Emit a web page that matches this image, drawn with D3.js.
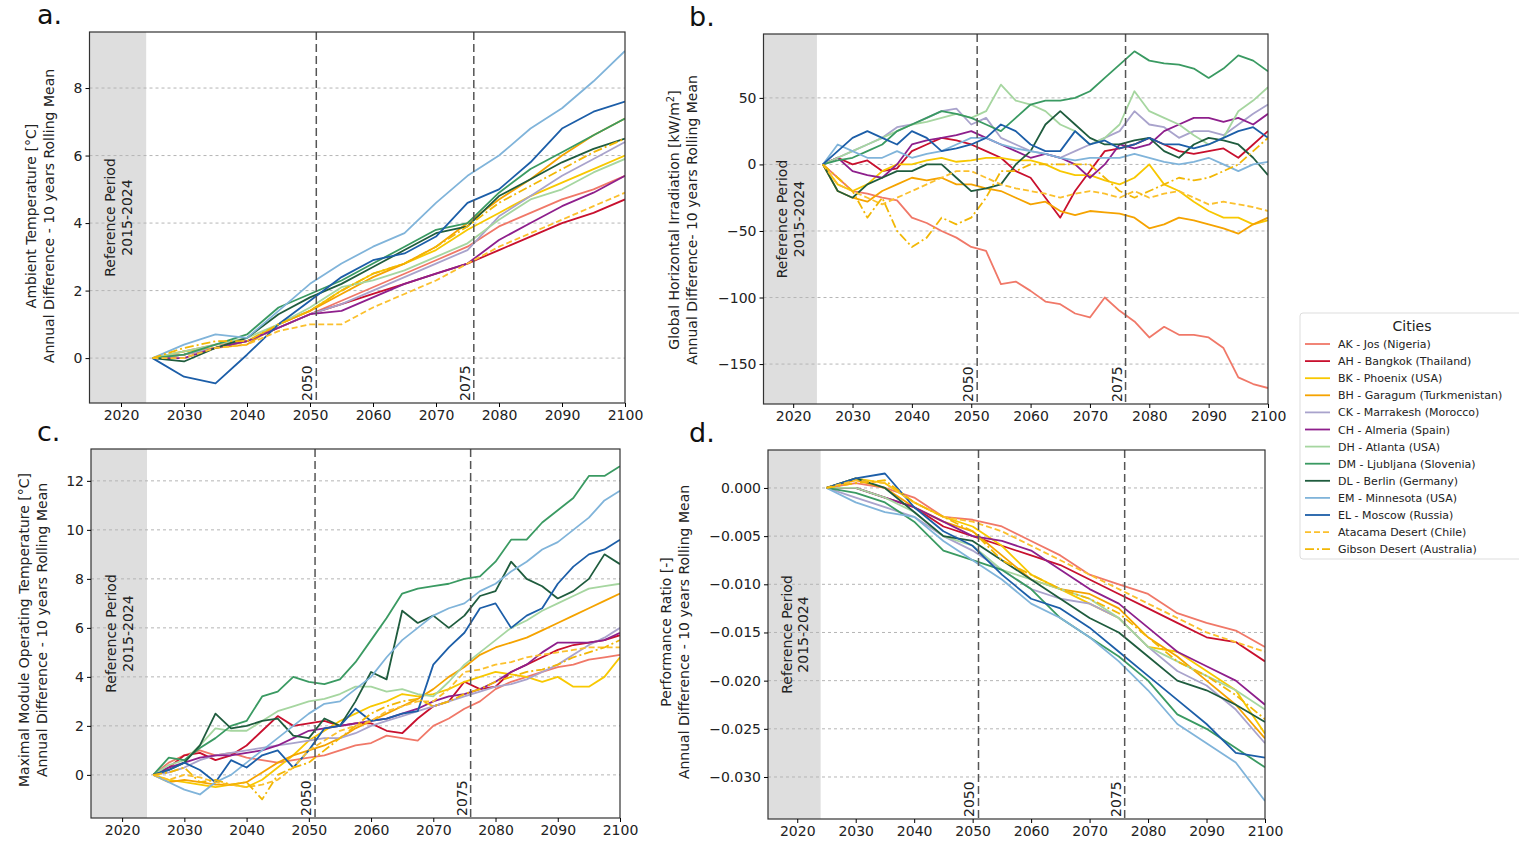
<!DOCTYPE html>
<meta charset="utf-8">
<script src="https://d3js.org/d3.v7.min.js"></script>
<style>
  body { margin: 0; background: #fff; font-family: "DejaVu Sans", sans-serif; }
  .tick text { font-family: "DejaVu Sans", sans-serif; font-size: 14px; fill: #222; }
</style>
<body>
<div id="viz"></div>
<script>
// years of the 10 year rolling mean
const years = [2025, 2030, 2035, 2040, 2045, 2050, 2055, 2060, 2065, 2070, 2075, 2080, 2085, 2090, 2095, 2100];
const yearsFine = [2025, 2027.5, 2030, 2032.5, 2035, 2037.5, 2040, 2042.5, 2045, 2047.5, 2050, 2052.5, 2055, 2057.5,
  2060, 2062.5, 2065, 2067.5, 2070, 2072.5, 2075, 2077.5, 2080, 2082.5, 2085, 2087.5, 2090, 2092.5, 2095, 2097.5, 2100];

const cities = ["AK - Jos (Nigeria)", "AH - Bangkok (Thailand)", "BK - Phoenix (USA)", "BH - Garagum (Turkmenistan)",
  "CK - Marrakesh (Morocco)", "CH - Almeria (Spain)", "DH - Atlanta (USA)", "DM - Ljubljana (Slovenia)",
  "DL - Berlin (Germany)", "EM - Minnesota (USA)", "EL - Moscow (Russia)", "Atacama Desert (Chile)", "Gibson Desert (Australia)"];

// a. ambient temperature difference [°C], same order as cities (years)
const ambientTemp = [
  [0, 0.2, 0.4, 0.5, 0.9, 1.3, 1.7, 2.1, 2.5, 2.9, 3.3, 3.9, 4.3, 4.7, 5.0, 5.4],
  [0, 0.1, 0.3, 0.5, 0.9, 1.3, 1.6, 1.9, 2.2, 2.5, 2.8, 3.2, 3.6, 4.0, 4.3, 4.7],
  [0, 0.2, 0.3, 0.5, 1.0, 1.4, 2.0, 2.5, 2.8, 3.2, 3.8, 4.3, 4.8, 5.2, 5.6, 6.0],
  [0, 0.1, 0.3, 0.4, 1.0, 1.4, 1.9, 2.4, 2.8, 3.3, 4.0, 4.7, 5.3, 6.0, 6.6, 7.1],
  [0, 0.1, 0.3, 0.5, 0.9, 1.3, 1.6, 2.0, 2.4, 2.8, 3.2, 4.2, 4.8, 5.4, 5.9, 6.4],
  [0, 0.0, 0.3, 0.5, 0.9, 1.3, 1.4, 1.8, 2.2, 2.5, 2.8, 3.5, 4.0, 4.5, 4.9, 5.4],
  [0, 0.2, 0.4, 0.6, 1.0, 1.5, 2.1, 2.3, 2.6, 3.0, 3.4, 4.1, 4.7, 5.0, 5.5, 5.9],
  [0, 0.1, 0.4, 0.7, 1.5, 1.9, 2.3, 2.8, 3.3, 3.8, 4.0, 4.9, 5.6, 6.1, 6.6, 7.1],
  [0, -0.1, 0.3, 0.6, 1.3, 1.8, 2.2, 2.7, 3.2, 3.7, 3.9, 4.8, 5.3, 5.8, 6.2, 6.5],
  [0, 0.4, 0.7, 0.6, 1.4, 2.2, 2.8, 3.3, 3.7, 4.6, 5.4, 6.0, 6.8, 7.4, 8.2, 9.1],
  [0, -0.55, -0.75, 0.1, 1.0, 1.7, 2.4, 2.9, 3.1, 3.6, 4.6, 5.0, 5.8, 6.8, 7.3, 7.6],
  [0, 0.0, 0.3, 0.4, 0.8, 1.0, 1.0, 1.5, 1.9, 2.3, 2.8, 3.3, 3.7, 4.1, 4.5, 4.9],
  [0, 0.3, 0.5, 0.5, 1.0, 1.4, 2.0, 2.5, 2.8, 3.3, 3.9, 4.6, 5.1, 5.6, 6.1, 6.5]
];

// b. global horizontal irradiation difference [kW/m2] (yearsFine)
const irradiation = [
  [0, -10, -20, -22, -25, -27, -40, -44, -50, -55, -62, -65, -90, -88, -95, -103, -105, -112, -115, -100, -110, -118, -130, -122, -128, -128, -130, -138, -160, -165, -168],
  [0, 5, 0, 3, -5, -3, 10, 15, 20, 18, 15, 10, 5, -5, -10, -25, -40, -20, -5, 10, 12, 15, 20, 15, 10, 8, 10, 12, 5, 15, 25],
  [0, -15, -20, -15, -5, 0, 0, 3, 5, 2, 3, 5, 5, 3, 3, 0, -5, -8, -8, -12, -15, -10, 0, -15, -20, -28, -35, -40, -40, -45, -42],
  [0, -20, -25, -28, -20, -15, -10, -12, -10, -15, -15, -18, -20, -25, -30, -28, -35, -38, -35, -36, -37, -40, -48, -45, -40, -42, -45, -48, -52, -45, -40],
  [0, 5, 10, 15, 20, 28, 30, 35, 40, 42, 30, 35, 20, 15, 10, 8, 5, 10, 15, 20, 25, 40, 30, 28, 20, 25, 25, 22, 30, 38, 45],
  [0, 5, -5, -8, -10, 0, 15, 18, 20, 22, 25, 20, 15, 10, 5, 8, 5, 0, -10, 0, 15, 12, 15, 25, 30, 35, 35, 32, 35, 30, 38],
  [0, 5, 10, 15, 20, 25, 30, 32, 35, 38, 35, 40, 60, 48, 45, 40, 30, 25, 15, 20, 30, 55, 40, 35, 30, 22, 15, 20, 40, 48, 58],
  [0, 3, 5, 10, 15, 25, 30, 35, 40, 38, 35, 30, 25, 35, 45, 48, 48, 50, 55, 65, 75, 85, 78, 76, 75, 72, 65, 72, 82, 78, 70],
  [0, -20, -25, -15, -10, -5, -5, 0, 0, -10, -20, -18, -15, 0, 10, 30, 40, 30, 20, 15, 15, 18, 20, 10, 5, 15, 20, 18, 15, 5, -8],
  [0, 15, 10, 5, 5, 10, 5, 8, 10, 15, 20, 20, 15, 12, 10, 8, 5, 3, 5, 5, 5, 8, 5, 2, 0, 2, 5, 0, -5, 0, 2],
  [0, 10, 20, 25, 20, 15, 25, 20, 10, 12, 15, 20, 30, 25, 15, 10, 10, 25, 15, 18, 12, 15, 20, 15, 15, 12, 15, 20, 25, 28, 20],
  [0, -15, -20, -25, -30, -25, -20, -15, -10, -5, -5, -10, -15, -18, -20, -22, -25, -22, -20, -22, -25, -20, -25, -22, -20, -25, -30, -28, -30, -32, -35],
  [0, -10, -20, -40, -25, -50, -62, -55, -40, -45, -40, -25, -5, -5, 0, 0, 0, 0, 0, -10, -20, -25, -20, -15, -10, -12, -10, -5, 0, 10, 20]
];

// c. maximal module operating temperature difference [°C] (yearsFine)
const moduleTemp = [
  [0, 0.5, 0.8, 1.0, 0.8, 0.9, 0.7, 0.6, 0.5, 0.6, 0.7, 0.8, 1.0, 1.2, 1.3, 1.6, 1.5, 1.4, 2.0, 2.3, 2.7, 3.0, 3.5, 3.8, 4.0, 4.2, 4.4, 4.5, 4.7, 4.8, 4.9],
  [0, 0.3, 0.8, 0.9, 0.6, 0.8, 1.2, 1.8, 2.4, 2.0, 2.1, 2.2, 2.0, 2.1, 2.1, 1.8, 1.7, 2.3, 2.8, 3.0, 3.8, 3.5, 3.6, 4.2, 4.5, 4.8, 5.1, 5.3, 5.4, 5.5, 5.7],
  [0, -0.2, -0.3, -0.4, -0.5, -0.4, -0.5, -0.2, 0.3, 0.8, 1.4, 1.8, 2.2, 2.5, 2.8, 3.0, 3.3, 3.2, 3.3, 3.5, 3.8, 4.0, 4.2, 4.1, 4.0, 3.8, 4.0, 3.6, 3.6, 4.0, 4.8],
  [0, -0.3, -0.2, -0.3, -0.4, -0.4, -0.3, 0.1, 0.5, 0.8, 1.0, 1.2, 1.5, 1.9, 2.2, 2.5, 2.8, 3.1, 3.5, 4.0, 4.4, 4.9, 5.2, 5.4, 5.6, 5.9, 6.2, 6.5, 6.8, 7.1, 7.4],
  [0, 0.1, 0.3, 0.6, 0.8, 0.9, 1.0, 1.1, 1.2, 1.3, 1.4, 1.5, 1.5, 1.7, 2.0, 2.2, 2.4, 2.6, 2.8, 3.0, 3.2, 3.4, 3.6, 3.7, 3.9, 4.2, 4.5, 4.9, 5.3, 5.6, 6.0],
  [0, 0.3, 0.5, 0.7, 0.8, 0.8, 0.9, 1.0, 1.2, 1.5, 1.8, 1.9, 2.0, 2.1, 2.2, 2.3, 2.5, 2.7, 3.0, 3.2, 3.3, 3.5, 3.8, 4.2, 4.5, 5.0, 5.4, 5.4, 5.4, 5.5, 5.8],
  [0, 0.4, 0.6, 1.2, 1.9, 1.8, 1.8, 2.2, 2.6, 2.8, 3.0, 3.1, 3.3, 3.6, 3.6, 3.4, 3.5, 3.3, 3.2, 3.8, 4.5, 5.0, 5.5, 6.0, 6.3, 6.7, 7.0, 7.3, 7.6, 7.7, 7.8],
  [0, 0.7, 0.6, 1.1, 1.5, 2.0, 2.2, 3.2, 3.4, 4.0, 3.8, 3.7, 3.9, 4.6, 5.5, 6.4, 7.4, 7.6, 7.7, 7.8, 8.0, 8.1, 8.7, 9.6, 9.6, 10.3, 10.8, 11.3, 12.2, 12.2, 12.6],
  [0, 0.2, 0.5, 1.2, 2.5, 1.9, 2.0, 2.2, 2.3, 1.6, 1.5, 2.3, 2.0, 3.0, 4.2, 3.9, 6.7, 6.2, 6.5, 6.0, 6.5, 7.3, 7.5, 8.7, 8.0, 7.7, 7.2, 7.5, 8.0, 9.0, 8.6],
  [0, -0.3, -0.6, -0.8, -0.3, 0.0, 0.5, 1.0, 1.5, 2.0, 2.5, 2.9, 3.0, 3.5, 4.0, 4.8, 5.5, 6.0, 6.5, 6.8, 7.0, 7.5, 7.8, 8.3, 8.7, 9.2, 9.5, 10.0, 10.5, 11.2, 11.6],
  [0, 0.2, 0.5, 0.2, -0.3, 0.6, 0.3, 0.8, 1.0, 0.3, 1.0, 1.9, 2.0, 2.7, 2.2, 2.3, 2.5, 2.6, 4.5, 5.2, 5.8, 6.8, 7.0, 6.0, 6.5, 6.8, 7.8, 8.5, 9.0, 9.2, 9.6],
  [0, -0.2, 0.0, -0.1, -0.3, -0.4, -0.5, -0.4, -0.2, 0.3, 1.0, 1.4, 1.8, 2.0, 2.2, 2.6, 2.8, 3.0, 3.0, 3.5, 4.2, 4.3, 4.5, 4.6, 4.8, 4.9, 5.0, 5.1, 5.2, 5.2, 5.2],
  [0, 0.1, 0.3, -0.3, -0.2, -0.4, -0.3, -1.0, 0.0, 0.3, 0.5, 1.0, 1.5, 2.0, 2.5, 2.8, 3.0, 3.1, 2.8, 3.0, 3.3, 3.5, 3.8, 4.0, 4.2, 4.3, 4.5, 4.8, 5.0, 5.2, 5.5]
];

// d. performance ratio difference [-] (years)
const perfRatio = [
  [0, 0.0005, 0.0, -0.001, -0.003, -0.0033, -0.004, -0.0055, -0.007, -0.009, -0.010, -0.011, -0.013, -0.014, -0.0148, -0.0165],
  [0, 0.0, -0.001, -0.002, -0.004, -0.005, -0.006, -0.007, -0.008, -0.0095, -0.011, -0.0125, -0.014, -0.0155, -0.016, -0.018],
  [0, 0.001, 0.0005, -0.0015, -0.003, -0.004, -0.006, -0.009, -0.0105, -0.012, -0.0135, -0.0165, -0.017, -0.019, -0.021, -0.0255],
  [0, 0.0008, 0.0, -0.002, -0.0035, -0.0045, -0.007, -0.0095, -0.0105, -0.011, -0.0125, -0.0155, -0.0175, -0.020, -0.0225, -0.026],
  [0, -0.001, -0.002, -0.003, -0.005, -0.0065, -0.0085, -0.0105, -0.0115, -0.012, -0.0135, -0.0165, -0.019, -0.0205, -0.023, -0.0265],
  [0, 0.0, -0.001, -0.002, -0.0035, -0.005, -0.0055, -0.0065, -0.0085, -0.0105, -0.012, -0.0145, -0.017, -0.0185, -0.020, -0.0225],
  [0, 0.0, -0.001, -0.0025, -0.005, -0.006, -0.0085, -0.0095, -0.0105, -0.0115, -0.0135, -0.0165, -0.018, -0.0195, -0.021, -0.023],
  [0, -0.0005, -0.0015, -0.0035, -0.0065, -0.0075, -0.0085, -0.0105, -0.0135, -0.0155, -0.0175, -0.020, -0.0235, -0.025, -0.027, -0.029],
  [0, 0.001, 0.0, -0.0025, -0.005, -0.0055, -0.0075, -0.0095, -0.0115, -0.0135, -0.015, -0.0175, -0.020, -0.021, -0.0225, -0.0243],
  [0, -0.0015, -0.0025, -0.003, -0.0055, -0.0075, -0.0095, -0.012, -0.0135, -0.0155, -0.018, -0.021, -0.0245, -0.0265, -0.0285, -0.0325],
  [0, 0.001, 0.0015, -0.002, -0.0045, -0.006, -0.009, -0.0115, -0.0125, -0.0145, -0.017, -0.0195, -0.022, -0.0245, -0.0275, -0.028],
  [0, 0.0008, 0.0005, -0.0015, -0.003, -0.0035, -0.0045, -0.006, -0.0075, -0.009, -0.0105, -0.012, -0.0135, -0.015, -0.016, -0.017],
  [0, 0.0005, 0.0008, -0.0015, -0.003, -0.0045, -0.0075, -0.009, -0.0105, -0.0115, -0.013, -0.0155, -0.018, -0.0195, -0.0215, -0.024]
];

const xTicks = [2020, 2030, 2040, 2050, 2060, 2070, 2080, 2090, 2100];

// line styles per city
const colors = ["#f07868", "#c8102e", "#f8c800", "#f5a300", "#a9a3cc", "#8e1f8c", "#a6d6a0",
  "#3a9a62", "#1f5c3e", "#80b4da", "#1c5ea8", "#fbc02d", "#f2b705"];
const dashes = [null, null, null, null, null, null, null, null, null, null, null, "6,3", "9,3,2,3"];

const svg = d3.select("#viz").append("svg")
  .attr("width", 1519).attr("height", 843)
  .style("font-family", "DejaVu Sans, sans-serif");

function drawPanel(p) {
  const g = svg.append("g");
  const x = d3.scaleLinear().domain([2015, 2100]).range([p.left, p.right]);
  const y = d3.scaleLinear().domain(p.yDomain).range([p.bottom, p.top]);

  // reference period shading
  g.append("rect")
    .attr("x", x(2015)).attr("y", p.top)
    .attr("width", x(2024) - x(2015)).attr("height", p.bottom - p.top)
    .attr("fill", "#dedede");

  // horizontal grid
  g.selectAll(".grid").data(p.yTicks).join("line")
    .attr("x1", p.left).attr("x2", p.right)
    .attr("y1", d => y(d)).attr("y2", d => y(d))
    .attr("stroke", "#b5b5b5").attr("stroke-width", 1).attr("stroke-dasharray", "3,3");

  const clipId = "clip" + p.id;
  svg.append("clipPath").attr("id", clipId).append("rect")
    .attr("x", p.left).attr("y", p.top).attr("width", p.right - p.left).attr("height", p.bottom - p.top);

  const line = d3.line().x((d, i) => x(p.years[i])).y(d => y(d));
  g.append("g").attr("clip-path", `url(#${clipId})`)
    .selectAll("path").data(p.series).join("path")
    .attr("d", line)
    .attr("fill", "none")
    .attr("stroke", (d, i) => colors[i])
    .attr("stroke-width", 1.8)
    .attr("stroke-linejoin", "round")
    .attr("stroke-dasharray", (d, i) => dashes[i]);

  // milestone lines 2050 / 2075
  [[2051, "2050"], [2076, "2075"]].forEach(m => {
    g.append("line")
      .attr("x1", x(m[0])).attr("x2", x(m[0]))
      .attr("y1", p.top).attr("y2", p.bottom)
      .attr("stroke", "#555").attr("stroke-width", 1.5).attr("stroke-dasharray", "8,4");
    g.append("text")
      .attr("transform", `translate(${x(m[0]) - 4},${p.bottom - 2}) rotate(-90)`)
      .attr("font-size", 14).attr("fill", "#222")
      .text(m[1]);
  });

  // reference period label
  const cx = (x(2015) + x(2024)) / 2, cy = (p.top + p.bottom) / 2;
  const ref = g.append("text")
    .attr("transform", `translate(${cx},${cy}) rotate(-90)`)
    .attr("text-anchor", "middle").attr("font-size", 14).attr("fill", "#222");
  ref.append("tspan").attr("x", 0).attr("dy", "-0.2em").text("Reference Period");
  ref.append("tspan").attr("x", 0).attr("dy", "1.2em").text("2015-2024");

  // frame
  g.append("rect")
    .attr("x", p.left).attr("y", p.top)
    .attr("width", p.right - p.left).attr("height", p.bottom - p.top)
    .attr("fill", "none").attr("stroke", "#333").attr("stroke-width", 1.2);

  g.append("g").attr("transform", `translate(0,${p.bottom})`)
    .call(d3.axisBottom(x).tickValues(xTicks).tickFormat(d3.format("d")).tickSizeOuter(0).tickSize(4))
    .call(a => a.select(".domain").remove());
  g.append("g").attr("transform", `translate(${p.left},0)`)
    .call(d3.axisLeft(y).tickValues(p.yTicks).tickFormat(p.fmt).tickSizeOuter(0).tickSize(4))
    .call(a => a.select(".domain").remove());

  // y axis title (two lines)
  const yt = g.append("text")
    .attr("transform", `translate(${p.ylabX},${p.ylabY}) rotate(-90)`)
    .attr("text-anchor", "middle").attr("font-size", 14).attr("fill", "#222");
  yt.append("tspan").attr("x", 0).attr("dy", 0).html(p.ylab1);
  yt.append("tspan").attr("x", 0).attr("dy", 18).text(p.ylab2);

  svg.append("text").attr("x", p.letterX).attr("y", p.letterY)
    .attr("font-size", 27).attr("fill", "#111").text(p.letter);
}

const minusFmt = f => (d => f(d).replace("-", "\u2212"));

drawPanel({ id: "a", letter: "a.", letterX: 37, letterY: 24, series: ambientTemp, years: years,
  left: 89.5, right: 625, top: 32, bottom: 403, yDomain: [-1.33, 9.66], yTicks: [0, 2, 4, 6, 8],
  fmt: minusFmt(d3.format("d")), ylabX: 36, ylabY: 216,
  ylab1: "Ambient Temperature [°C]", ylab2: "Annual Difference - 10 years Rolling Mean" });

drawPanel({ id: "b", letter: "b.", letterX: 689, letterY: 26, series: irradiation, years: yearsFine,
  left: 763.5, right: 1268, top: 34, bottom: 404, yDomain: [-180, 98], yTicks: [-150, -100, -50, 0, 50],
  fmt: minusFmt(d3.format("d")), ylabX: 679, ylabY: 220,
  ylab1: "Global Horizontal Irradiation [kW/m<tspan baseline-shift='super' font-size='10'>2</tspan>]",
  ylab2: "Annual Difference- 10 years Rolling Mean" });

drawPanel({ id: "c", letter: "c.", letterX: 37, letterY: 441, series: moduleTemp, years: yearsFine,
  left: 91, right: 620, top: 449, bottom: 818, yDomain: [-1.76, 13.3], yTicks: [0, 2, 4, 6, 8, 10, 12],
  fmt: minusFmt(d3.format("d")), ylabX: 29, ylabY: 630,
  ylab1: "Maximal Module Operating Temperature [°C]", ylab2: "Annual Difference - 10 years Rolling Mean" });

drawPanel({ id: "d", letter: "d.", letterX: 689, letterY: 442, series: perfRatio, years: years,
  left: 768, right: 1265, top: 450, bottom: 819, yDomain: [-0.03436, 0.00394],
  yTicks: [-0.03, -0.025, -0.02, -0.015, -0.01, -0.005, 0],
  fmt: minusFmt(d3.format(".3f")), ylabX: 671, ylabY: 632,
  ylab1: "Performance Ratio [-]", ylab2: "Annual Difference - 10 years Rolling Mean" });

// legend
const lg = svg.append("g");
lg.append("rect").attr("x", 1300).attr("y", 313).attr("width", 230).attr("height", 246)
  .attr("rx", 3).attr("fill", "#fff").attr("stroke", "#ddd");
lg.append("text").attr("x", 1412).attr("y", 331).attr("text-anchor", "middle")
  .attr("font-size", 14).attr("fill", "#222").text("Cities");
const items = lg.selectAll(".item").data(cities).join("g")
  .attr("transform", (d, i) => `translate(0,${344 + i * 17.1})`);
items.append("line").attr("x1", 1305).attr("x2", 1330).attr("y1", 0).attr("y2", 0)
  .attr("stroke", (d, i) => colors[i]).attr("stroke-width", 1.8)
  .attr("stroke-dasharray", (d, i) => dashes[i]);
items.append("text").attr("x", 1338).attr("y", 4).attr("font-size", 11).attr("fill", "#222").text(d => d);
</script>
</body>
